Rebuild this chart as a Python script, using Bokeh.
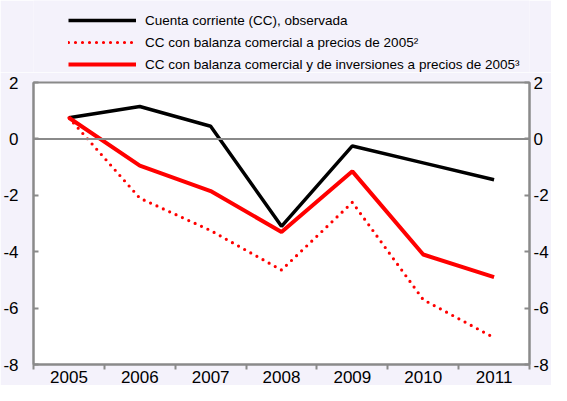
from bokeh.plotting import figure
from bokeh.layouts import column
from bokeh.models import (Range1d, FixedTicker, LinearAxis, Span, Legend, LegendItem)
from bokeh.embed import file_html
from bokeh.resources import INLINE

years = [2005, 2006, 2007, 2008, 2009, 2010, 2011]
cc_observada = [0.75, 1.15, 0.45, -3.1, -0.25, -0.85, -1.45]
cc_comercial = [0.75, -2.1, -3.25, -4.65, -2.25, -5.7, -7.05]
cc_com_inv = [0.75, -0.95, -1.85, -3.3, -1.15, -4.1, -4.9]
series = [cc_observada, cc_comercial, cc_com_inv]
y_ticks = [-8, -6, -4, -2, 0, 2]
y_tick_labels = ["-8", "-6", "-4", "-2", "0", "2"]
labels = ["Cuenta corriente (CC), observada",
          "CC con balanza comercial a precios de 2005\u00b2",
          "CC con balanza comercial y de inversiones a precios de 2005\u00b3"]

FONT = "Liberation Sans"
GRAY = "#8a8a8a"
BG = "#F4F2FB"

STYLES = [dict(line_color="black", line_width=3.5),
          dict(line_color="#ff0000", line_width=3.2, line_dash="0 7", line_cap="round"),
          dict(line_color="#ff0000", line_width=4)]

# ---- legend strip (separate figure so the legend is not clipped by the frame)
TOP_H = 72
top = figure(width=551, height=TOP_H, output_backend="svg", toolbar_location=None,
             title=None, x_axis_type=None, y_axis_type=None,
             x_range=Range1d(0, 1), y_range=Range1d(0, 1),
             min_border=0)
top.border_fill_color = BG
top.background_fill_color = BG
top.outline_line_color = None
# same series, outside this strip's ranges: only their legend samples are seen
legend_src = [top.line(years, s, **st) for s, st in zip(series, STYLES)]
legend = Legend(items=[LegendItem(label=l, renderers=[r]) for l, r in zip(labels, legend_src)],
                location=(35, 0), orientation="vertical",
                glyph_width=68, glyph_height=16, label_height=16,
                label_standoff=9, spacing=6, padding=0, margin=0,
                label_text_font=FONT, label_text_font_size="13.5px",
                label_text_color="black",
                background_fill_alpha=0, border_line_alpha=0)
top.add_layout(legend, "center")

# ---- main chart
p = figure(width=551, height=385 - TOP_H, output_backend="svg", toolbar_location=None,
           title=None, x_range=Range1d(2004.5, 2011.5), y_range=Range1d(-8, 2),
           min_border_left=33, min_border_right=10, min_border_top=82 - TOP_H,
           min_border_bottom=20)
p.border_fill_color = BG
p.background_fill_color = "white"
p.outline_line_color = GRAY
p.outline_line_width = 2
p.xgrid.visible = False
p.ygrid.visible = False

xa = p.xaxis[0]
xa.ticker = FixedTicker(ticks=years, minor_ticks=[y - 0.5 for y in years] + [years[-1] + 0.5])
xa.major_tick_in = 0
xa.major_tick_out = 0
xa.minor_tick_in = 0
xa.minor_tick_out = 5
xa.minor_tick_line_color = GRAY
xa.minor_tick_line_width = 2
xa.axis_line_color = GRAY
xa.axis_line_width = 2
xa.major_label_text_font = FONT
xa.major_label_text_font_size = "17px"
xa.major_label_text_color = "black"
xa.major_label_standoff = 1

def style_y(ax, standoff):
    ax.ticker = FixedTicker(ticks=y_ticks)
    ax.major_label_overrides = {t: l for t, l in zip(y_ticks, y_tick_labels)}
    ax.major_tick_in = 5
    ax.major_tick_out = 0
    ax.minor_tick_in = 0
    ax.minor_tick_out = 0
    ax.major_tick_line_color = GRAY
    ax.major_tick_line_width = 2
    ax.axis_line_color = GRAY
    ax.axis_line_width = 2
    ax.major_label_text_font = FONT
    ax.major_label_text_font_size = "17px"
    ax.major_label_text_color = "black"
    ax.major_label_standoff = standoff

style_y(p.yaxis[0], 15)
ra = LinearAxis()
style_y(ra, 4)
p.add_layout(ra, "right")

p.add_layout(Span(location=0, dimension="width", line_color=GRAY, line_width=2))

for s, st in zip(series, STYLES):
    p.line(years, s, **st)

layout = column(top, p, spacing=0)

open("out.html", "w").write(file_html(layout, INLINE))
